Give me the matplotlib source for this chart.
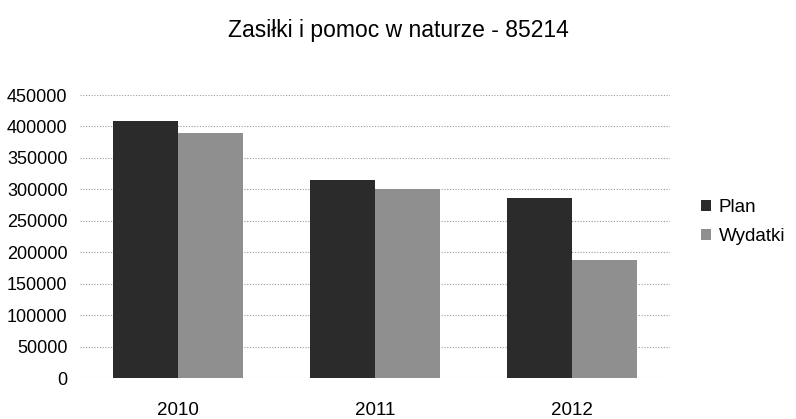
import numpy as np
import matplotlib.pyplot as plt
from matplotlib import font_manager

years = ["2010", "2011", "2012"]
plan = [408000, 315000, 287000]
wydatki = [390000, 301000, 188000]
yticks = list(range(0, 450001, 50000))

names = {f.name for f in font_manager.fontManager.ttflist}
family = ["Liberation Sans Narrow", "Liberation Sans", "DejaVu Sans"]
plt.rcParams["font.family"] = [f for f in family if f in names] or ["DejaVu Sans"]

fig = plt.figure(figsize=(7.96, 4.19), dpi=100)
ax = fig.add_axes([80 / 796, 41 / 419, 590 / 796, 283 / 419])

x = np.arange(len(years))
w = 0.33
ax.bar(x - w / 2, plan, w, color="#2b2b2b", label="Plan", zorder=2)
ax.bar(x + w / 2, wydatki, w, color="#8f8f8f", label="Wydatki", zorder=2)

ax.set_xlim(-0.5, 2.5)
ax.set_ylim(0, 450000)
ax.set_yticks(yticks)
ax.set_yticklabels([str(v) for v in yticks], fontsize=13)
ax.set_xticks(x)
ax.set_xticklabels(years, fontsize=13.5)
ax.tick_params(axis="both", length=0)
ax.tick_params(axis="x", pad=17)
ax.tick_params(axis="y", pad=9)
ax.grid(axis="y", linestyle=(0, (1, 1.5)), color="#999999", linewidth=0.8, zorder=0)
for s in ax.spines.values():
    s.set_visible(False)

fig.suptitle("Zasiłki i pomoc w naturze - 85214", fontsize=16.5, y=0.955)
ax.legend(loc="center left", bbox_to_anchor=(1.04, 0.55), frameon=False,
          fontsize=13.5, handlelength=0.55, handleheight=0.55, handletextpad=0.4,
          labelspacing=0.65, borderaxespad=0)

fig.savefig("out.png", dpi=100)
